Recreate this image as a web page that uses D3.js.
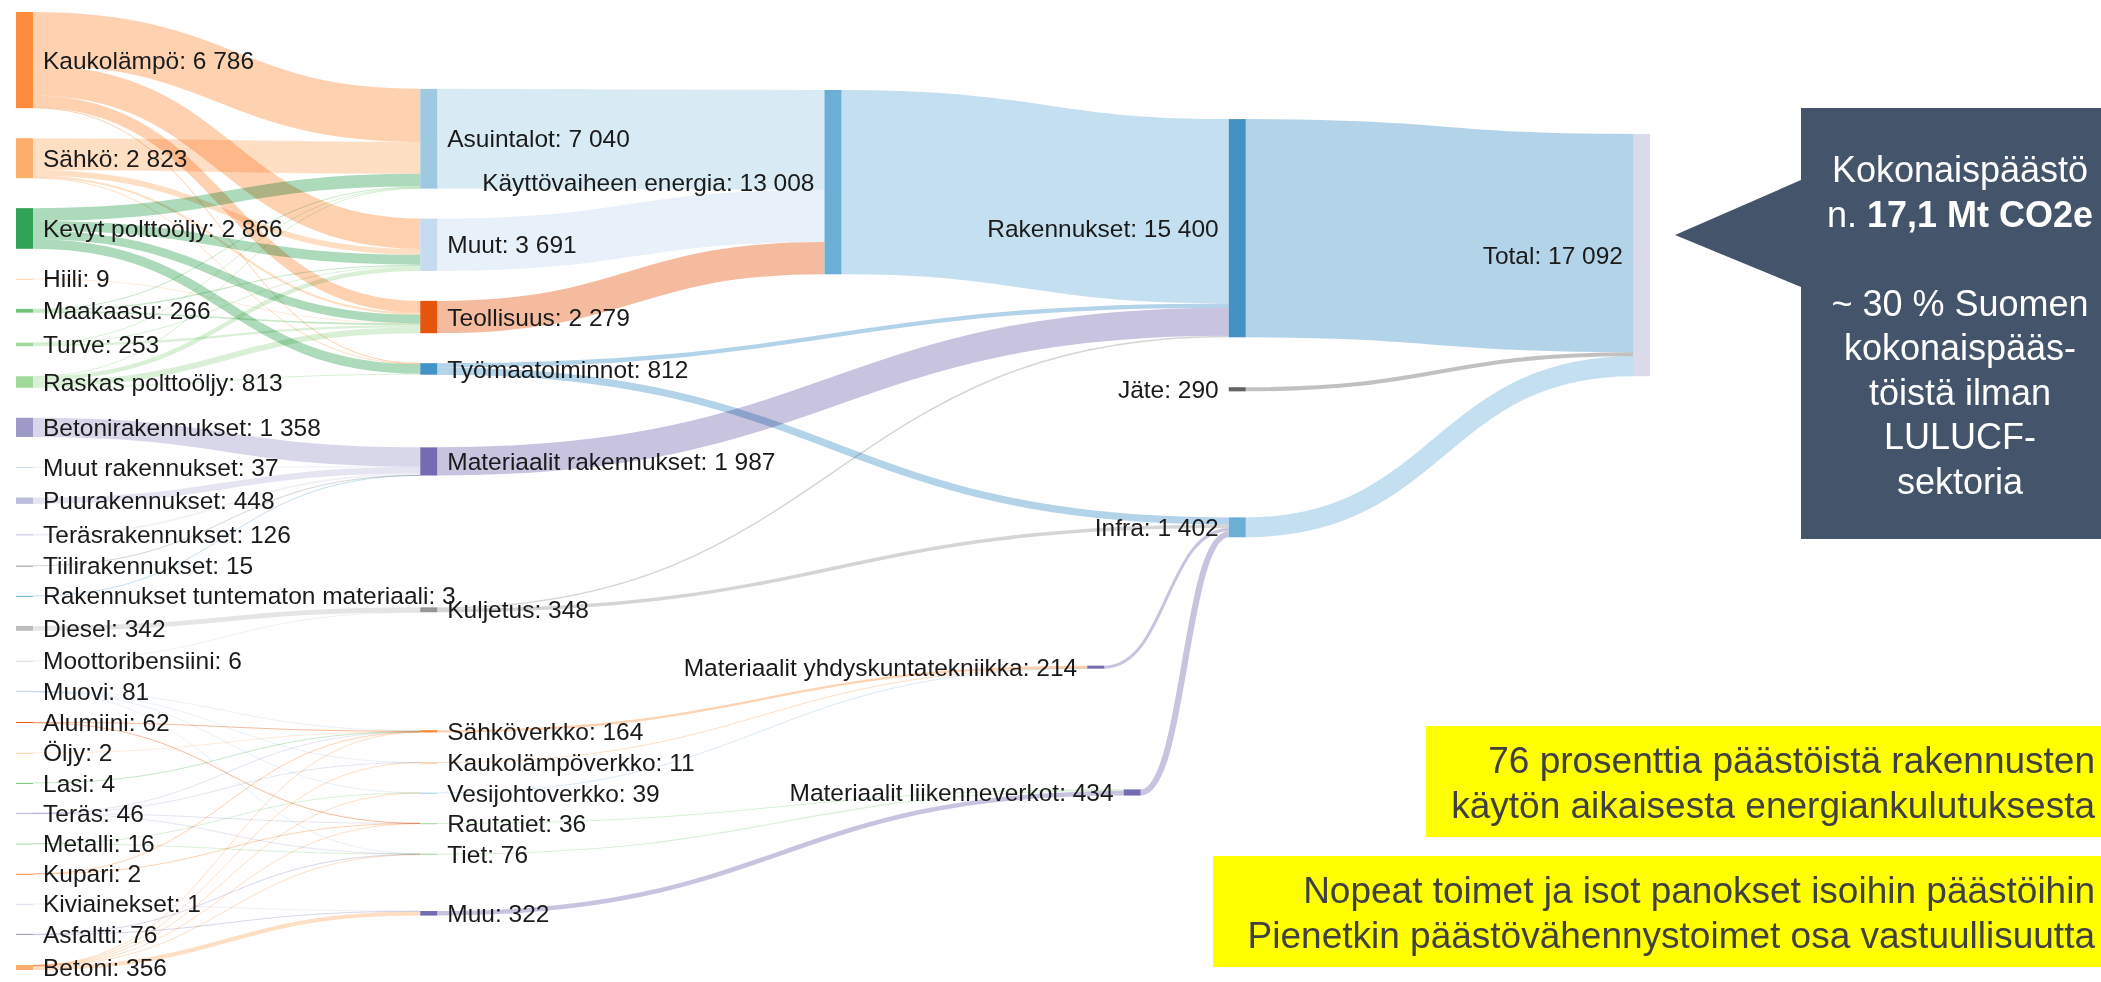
<!DOCTYPE html>
<html>
<head>
<meta charset="utf-8">
<script src="https://cdn.jsdelivr.net/npm/d3@7"></script>
<style>
  body { margin: 0; background: #fff; }
  svg { display: block; font-family: "Liberation Sans", Arial, sans-serif; }
</style>
</head>
<body>
<svg id="chart" width="2101" height="982"></svg>
<script>
// nodes in drawing order, values as printed in the labels
const nodeNames = [
  "Kaukolämpö", "Sähkö", "Kevyt polttoöljy", "Hiili", "Maakaasu", "Turve", "Raskas polttoöljy",
  "Betonirakennukset", "Muut rakennukset", "Puurakennukset", "Teräsrakennukset", "Tiilirakennukset",
  "Rakennukset tuntematon materiaali", "Diesel", "Moottoribensiini",
  "Muovi", "Alumiini", "Öljy", "Lasi", "Teräs", "Metalli", "Kupari", "Kiviainekset", "Asfaltti", "Betoni",
  "Asuintalot", "Muut", "Teollisuus", "Työmaatoiminnot", "Materiaalit rakennukset", "Kuljetus",
  "Sähköverkko", "Kaukolämpöverkko", "Vesijohtoverkko", "Rautatiet", "Tiet", "Muu",
  "Käyttövaiheen energia", "Materiaalit yhdyskuntatekniikka", "Materiaalit liikenneverkot",
  "Rakennukset", "Jäte", "Infra", "Total"
];
const nodeValues = [
  6786, 2823, 2866, 9, 266, 253, 813,
  1358, 37, 448, 126, 15,
  3, 342, 6,
  81, 62, 2, 4, 46, 16, 2, 1, 76, 356,
  7040, 3691, 2279, 812, 1987, 348,
  164, 11, 39, 36, 76, 322,
  13008, 214, 434,
  15400, 290, 1402, 17092
];

const energyLinks = [
  ["Kaukolämpö", "Asuintalot", 3750], ["Kaukolämpö", "Muut", 2150], ["Kaukolämpö", "Teollisuus", 832], ["Kaukolämpö", "Työmaatoiminnot", 54],
  ["Sähkö", "Asuintalot", 2250], ["Sähkö", "Muut", 400], ["Sähkö", "Teollisuus", 150], ["Sähkö", "Työmaatoiminnot", 23],
  ["Kevyt polttoöljy", "Asuintalot", 900], ["Kevyt polttoöljy", "Muut", 700], ["Kevyt polttoöljy", "Teollisuus", 600], ["Kevyt polttoöljy", "Työmaatoiminnot", 666],
  ["Hiili", "Teollisuus", 9],
  ["Maakaasu", "Asuintalot", 70], ["Maakaasu", "Muut", 80], ["Maakaasu", "Teollisuus", 116],
  ["Turve", "Asuintalot", 40], ["Turve", "Muut", 61], ["Turve", "Teollisuus", 152],
  ["Raskas polttoöljy", "Asuintalot", 30], ["Raskas polttoöljy", "Muut", 300], ["Raskas polttoöljy", "Teollisuus", 420], ["Raskas polttoöljy", "Työmaatoiminnot", 63]
];
const buildingLinks = [
  ["Betonirakennukset", "Materiaalit rakennukset", 1358], ["Muut rakennukset", "Materiaalit rakennukset", 37],
  ["Puurakennukset", "Materiaalit rakennukset", 448], ["Teräsrakennukset", "Materiaalit rakennukset", 126],
  ["Tiilirakennukset", "Materiaalit rakennukset", 15], ["Rakennukset tuntematon materiaali", "Materiaalit rakennukset", 3]
];
const fuelLinks = [
  ["Diesel", "Kuljetus", 342], ["Moottoribensiini", "Kuljetus", 6]
];
const networkLinks = [
  ["Muovi", "Sähköverkko", 50], ["Muovi", "Kaukolämpöverkko", 5], ["Muovi", "Vesijohtoverkko", 16], ["Muovi", "Tiet", 10],
  ["Alumiini", "Sähköverkko", 52], ["Alumiini", "Rautatiet", 10],
  ["Öljy", "Sähköverkko", 2], ["Lasi", "Sähköverkko", 4],
  ["Teräs", "Sähköverkko", 25], ["Teräs", "Kaukolämpöverkko", 3], ["Teräs", "Rautatiet", 10], ["Teräs", "Tiet", 8],
  ["Metalli", "Vesijohtoverkko", 8], ["Metalli", "Tiet", 8],
  ["Kupari", "Sähköverkko", 1], ["Kupari", "Rautatiet", 1], ["Kiviainekset", "Muu", 1],
  ["Asfaltti", "Tiet", 40], ["Asfaltti", "Muu", 36],
  ["Betoni", "Sähköverkko", 30], ["Betoni", "Kaukolämpöverkko", 3], ["Betoni", "Vesijohtoverkko", 15],
  ["Betoni", "Rautatiet", 15], ["Betoni", "Tiet", 10], ["Betoni", "Muu", 283]
];
const stageLinks = [
  ["Asuintalot", "Käyttövaiheen energia", 7040], ["Muut", "Käyttövaiheen energia", 3691], ["Teollisuus", "Käyttövaiheen energia", 2279],
  ["Työmaatoiminnot", "Rakennukset", 305], ["Työmaatoiminnot", "Infra", 507],
  ["Materiaalit rakennukset", "Rakennukset", 1987],
  ["Kuljetus", "Rakennukset", 100], ["Kuljetus", "Infra", 248],
  ["Sähköverkko", "Materiaalit yhdyskuntatekniikka", 164], ["Kaukolämpöverkko", "Materiaalit yhdyskuntatekniikka", 11],
  ["Vesijohtoverkko", "Materiaalit yhdyskuntatekniikka", 39],
  ["Rautatiet", "Materiaalit liikenneverkot", 36], ["Tiet", "Materiaalit liikenneverkot", 76], ["Muu", "Materiaalit liikenneverkot", 322],
  ["Käyttövaiheen energia", "Rakennukset", 13008],
  ["Materiaalit yhdyskuntatekniikka", "Infra", 214], ["Materiaalit liikenneverkot", "Infra", 434],
  ["Rakennukset", "Total", 15400], ["Jäte", "Total", 290], ["Infra", "Total", 1402]
];

const color = d3.scaleOrdinal()
  .domain(nodeNames)
  .range([
    "#fd8d3c", "#fdae6b", "#31a354", "#fdd0a2", "#74c476", "#a1d99b", "#a1d99b",
    "#9e9ac8", "#c6dbef", "#bcbddc", "#dadaeb", "#969696",
    "#6baed6", "#bdbdbd", "#d9d9d9",
    "#c6dbef", "#e6550d", "#fdd0a2", "#74c476", "#bcbddc", "#a1d99b", "#fd8d3c", "#dadaeb", "#9e9ac8", "#fdae6b",
    "#9ecae1", "#c6dbef", "#e6550d", "#4292c6", "#756bb1", "#969696",
    "#fd8d3c", "#fdae6b", "#9ecae1", "#a1d99b", "#a1d99b", "#756bb1",
    "#6baed6", "#756bb1", "#756bb1",
    "#4292c6", "#636363", "#6baed6", "#dadaeb"
  ]);

// nodes that sit off the justified columns
const layerFix = {"Jäte": 3};
const layerShift = {"Materiaalit yhdyskuntatekniikka": 2.65, "Materiaalit liikenneverkot": 2.74};

const fmt = d3.formatLocale({decimal: ",", thousands: " ", grouping: [3], currency: ["", ""]}).format(",d");

const ext = {x0: 16, y0: 12, x1: 1650, y1: 970};
const nodeWidth = 17;
const py = 30;
const iterations = 24;

const nodes = nodeNames.map((name, i) => ({name, value: nodeValues[i]}));
const links = [...energyLinks, ...buildingLinks, ...fuelLinks, ...networkLinks, ...stageLinks]
  .map(([source, target, value]) => ({source, target, value}));

// ---- sankey layout (classic d3-sankey relaxation, input order kept) ----
const byName = new Map(nodes.map(d => [d.name, d]));
nodes.forEach((d, i) => { d.index = i; d.sourceLinks = []; d.targetLinks = []; });
links.forEach((l, i) => {
  l.index = i;
  l.source = byName.get(l.source);
  l.target = byName.get(l.target);
  l.source.sourceLinks.push(l);
  l.target.targetLinks.push(l);
});

let current = new Set(nodes), next = new Set, depth = 0;
while (current.size) {
  for (const n of current) {
    n.depth = depth;
    for (const l of n.sourceLinks) next.add(l.target);
  }
  depth++;
  current = next;
  next = new Set;
}
const nLayers = depth;

const xLayer = d3.scaleLinear()
  .domain([0, nLayers - 1])
  .range([ext.x0, ext.x1 - nodeWidth]);

nodes.forEach(d => {
  d.layer = layerFix[d.name] ?? (d.sourceLinks.length ? d.depth : nLayers - 1);
  d.x0 = xLayer(d.layer);
  d.x1 = d.x0 + nodeWidth;
});
const columns = d3.range(nLayers).map(i => nodes.filter(d => d.layer === i));

const ky = d3.min(columns, c => (ext.y1 - ext.y0 - (c.length - 1) * py) / d3.sum(c, d => d.value));
columns.forEach(col => col.forEach((n, i) => { n.y0 = i; n.y1 = i + n.value * ky; }));
links.forEach(l => l.width = l.value * ky);

const center = n => (n.y0 + n.y1) / 2;

function resolveCollisions() {
  columns.forEach(col => {
    let y = ext.y0;
    for (const n of col) {
      const dy = y - n.y0;
      if (dy > 0) { n.y0 += dy; n.y1 += dy; }
      y = n.y1 + py;
    }
    let dy = y - py - ext.y1;
    if (dy > 0) {
      const last = col[col.length - 1];
      last.y0 -= dy; last.y1 -= dy;
      y = last.y0;
      for (let i = col.length - 2; i >= 0; --i) {
        const m = col[i];
        dy = m.y1 + py - y;
        if (dy > 0) { m.y0 -= dy; m.y1 -= dy; }
        y = m.y0;
      }
    }
  });
}
function relaxLeftToRight(alpha) {
  columns.forEach(col => col.forEach(n => {
    if (!n.targetLinks.length) return;
    const dy = (d3.sum(n.targetLinks, l => center(l.source) * l.value) / d3.sum(n.targetLinks, l => l.value) - center(n)) * alpha;
    n.y0 += dy; n.y1 += dy;
  }));
}
function relaxRightToLeft(alpha) {
  columns.slice().reverse().forEach(col => col.forEach(n => {
    if (!n.sourceLinks.length) return;
    const dy = (d3.sum(n.sourceLinks, l => center(l.target) * l.value) / d3.sum(n.sourceLinks, l => l.value) - center(n)) * alpha;
    n.y0 += dy; n.y1 += dy;
  }));
}

resolveCollisions();
for (let alpha = 1, k = iterations; k > 0; --k) {
  relaxRightToLeft(alpha *= 0.99);
  resolveCollisions();
  relaxLeftToRight(alpha);
  resolveCollisions();
}

nodes.forEach(n => {
  n.sourceLinks.sort((a, b) => a.target.y0 - b.target.y0);
  n.targetLinks.sort((a, b) => a.source.y0 - b.source.y0);
});
nodes.forEach(n => {
  let a = n.y0, b = n.y0;
  for (const l of n.sourceLinks) { l.y0 = a + l.width / 2; a += l.width; }
  for (const l of n.targetLinks) { l.y1 = b + l.width / 2; b += l.width; }
});

// moved nodes keep their vertical place
nodes.forEach(d => {
  if (layerShift[d.name] !== undefined) {
    d.x0 = xLayer(layerShift[d.name]);
    d.x1 = d.x0 + nodeWidth;
  }
});

// ---- drawing ----
const svg = d3.select("#chart");

svg.append("g")
    .attr("fill", "none")
    .attr("stroke-opacity", 0.4)
  .selectAll("path")
  .data(links)
  .join("path")
    .attr("d", d3.linkHorizontal()
      .source(d => [d.source.x1, d.y0])
      .target(d => [d.target.x0, d.y1]))
    .attr("stroke", d => color(d.source.name))
    .attr("stroke-width", d => Math.max(1, d.width))
    .style("mix-blend-mode", "multiply");

svg.append("g")
  .selectAll("rect")
  .data(nodes)
  .join("rect")
    .attr("x", d => d.x0)
    .attr("y", d => d.y0)
    .attr("width", d => d.x1 - d.x0)
    .attr("height", d => Math.max(1, d.y1 - d.y0))
    .attr("fill", d => color(d.name));

svg.append("g")
    .attr("font-size", 24.5)
    .attr("fill", "#1a1a1a")
  .selectAll("text")
  .data(nodes)
  .join("text")
    .attr("x", d => d.layer < 2 ? d.x1 + 10 : d.x0 - 10)
    .attr("y", d => (d.y0 + d.y1) / 2)
    .attr("dy", "0.35em")
    .attr("text-anchor", d => d.layer < 2 ? "start" : "end")
    .text(d => `${d.name}: ${fmt(d.value)}`);

// ---- callout ----
const callout = svg.append("g");
callout.append("path")
    .attr("d", "M1801,108H2101V539H1801V287L1675,235L1801,180Z")
    .attr("fill", "#44546a");

const calloutLines = ["Kokonaispäästö", "", "", "~ 30 % Suomen", "kokonaispääs-", "töistä ilman", "LULUCF-", "sektoria"];
callout.append("text")
    .attr("text-anchor", "middle")
    .attr("font-size", 36)
    .attr("fill", "#fff")
  .selectAll("tspan")
  .data([0, 3, 4, 5, 6, 7])
  .join("tspan")
    .attr("x", 1960)
    .attr("y", i => 182 + i * 44.5)
    .text(i => calloutLines[i]);
const ct2 = callout.append("text")
    .attr("x", 1960)
    .attr("y", 182 + 44.5)
    .attr("text-anchor", "middle")
    .attr("font-size", 36)
    .attr("fill", "#fff");
ct2.append("tspan").text("n. ");
ct2.append("tspan").attr("font-weight", "bold").text("17,1 Mt CO2e");

// ---- yellow notes ----
const notes = [
  {x: 1426, y: 726, w: 675, lines: ["76 prosenttia päästöistä rakennusten", "käytön aikaisesta energiankulutuksesta"]},
  {x: 1213, y: 856, w: 888, lines: ["Nopeat toimet ja isot panokset isoihin päästöihin", "Pienetkin päästövähennystoimet osa vastuullisuutta"]}
];
const note = svg.append("g")
  .selectAll("g")
  .data(notes)
  .join("g");
note.append("rect")
    .attr("x", d => d.x)
    .attr("y", d => d.y)
    .attr("width", d => d.w)
    .attr("height", 111)
    .attr("fill", "#ffff00");
note.append("text")
    .attr("text-anchor", "end")
    .attr("font-size", 37)
    .attr("fill", "#404040")
  .selectAll("tspan")
  .data(d => d.lines.map((t, i) => ({t, y: d.y + 47 + i * 45})))
  .join("tspan")
    .attr("x", 2095)
    .attr("y", d => d.y)
    .text(d => d.t);
</script>
</body>
</html>
